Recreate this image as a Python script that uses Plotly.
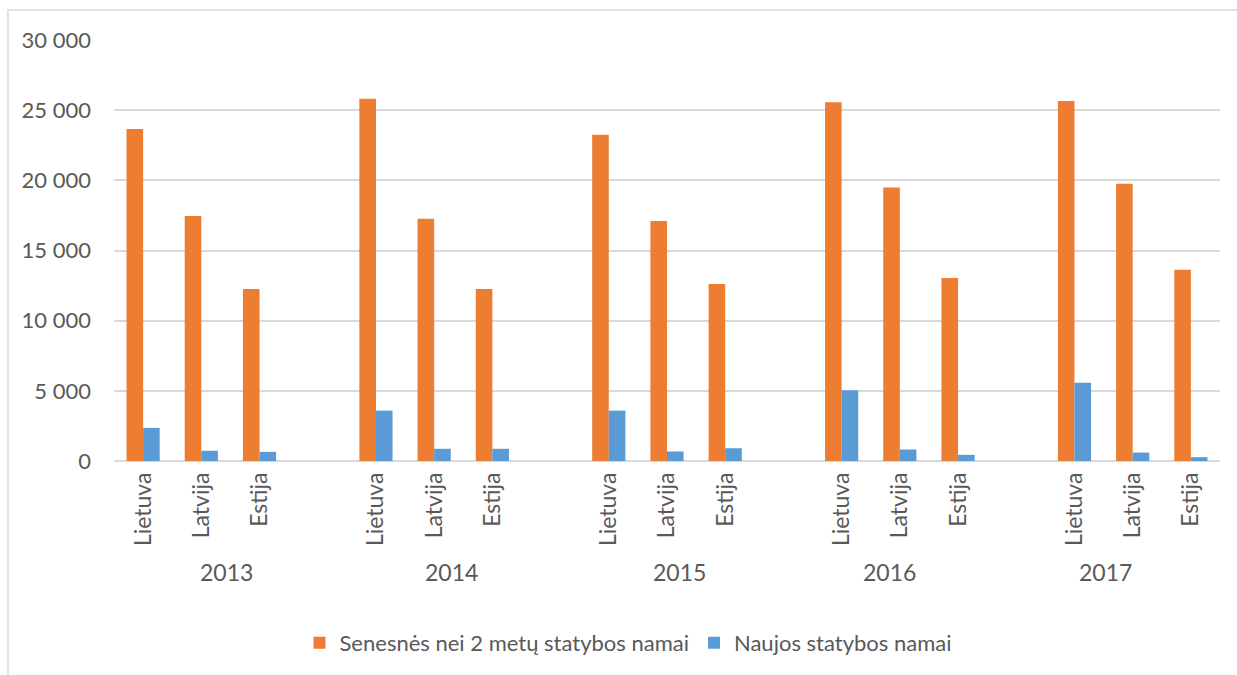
import plotly.graph_objects as go

# Data
years = ["2013", "2014", "2015", "2016", "2017"]
countries = ["Lietuva", "Latvija", "Estija"]
older_homes = [
    [23650, 17450, 12260],   # 2013
    [25820, 17260, 12260],   # 2014
    [23240, 17100, 12610],   # 2015
    [25570, 19490, 13040],   # 2016
    [25660, 19750, 13630],   # 2017
]
new_homes = [
    [2360, 730, 650],
    [3590, 870, 870],
    [3590, 680, 910],
    [5040, 820, 440],
    [5570, 600, 270],
]
series_names = ["Senesnės nei 2 metų statybos namai", "Naujos statybos namai"]

# Layout helpers: each year takes 3 category slots followed by one empty slot
SLOT = 4
xpos, xlabels, y_old, y_new = [], [], [], []
for i, yr in enumerate(years):
    for j, c in enumerate(countries):
        xpos.append(i * SLOT + j)
        xlabels.append(c)
        y_old.append(older_homes[i][j])
        y_new.append(new_homes[i][j])

# Horizontal offsets of the year labels relative to the first bar of each group
year_label_offset = [1.44, 1.29, 1.21, 0.82, 0.54]

TEXT = "#595959"
GRID = "#d9d9d9"
FONT = "Lato"

fig = go.Figure()
fig.add_trace(go.Bar(x=xpos, y=y_old, name=series_names[0],
                     marker=dict(color="#ED7D31", line=dict(width=0))))
fig.add_trace(go.Bar(x=xpos, y=y_new, name=series_names[1],
                     marker=dict(color="#5B9BD5", line=dict(width=0))))

W, H = 1237, 675
L, R, T, B = 114, 17, 40, 213
pw, ph = W - L - R, H - T - B

annotations = []
for i, yr in enumerate(years):
    annotations.append(dict(
        x=i * SLOT + year_label_offset[i], xref="x",
        y=-(573 - (H - B)) / ph, yref="paper",
        text=yr, showarrow=False, xanchor="center", yanchor="middle",
        font=dict(family=FONT, size=23, color=TEXT)))

fig.update_layout(
    width=W, height=H,
    margin=dict(l=L, r=R, t=T, b=B),
    paper_bgcolor="white", plot_bgcolor="white",
    barmode="group", bargap=0.43, bargroupgap=0,
    separators=", ",
    font=dict(family=FONT, size=22, color=TEXT),
    showlegend=True,
    legend=dict(orientation="h", x=(628 - L) / pw, xanchor="center",
                y=-(643 - (H - B)) / ph, yanchor="middle",
                font=dict(family=FONT, size=22, color=TEXT),
                itemwidth=30, traceorder="normal"),
    xaxis=dict(range=[-0.5, len(years) * SLOT - 1.5],
               tickmode="array", tickvals=xpos, ticktext=xlabels,
               tickangle=-90, showgrid=False, zeroline=False,
               showline=False, ticks="", ticklabelstandoff=6,
               tickfont=dict(family=FONT, size=23, color=TEXT),
               fixedrange=True),
    yaxis=dict(range=[0, 30000], tickmode="linear", tick0=0, dtick=5000,
               tickformat=",d", showgrid=True, gridcolor=GRID, gridwidth=2,
               zeroline=True, zerolinecolor=GRID, zerolinewidth=2,
               showline=False, ticks="", ticklabelstandoff=22,
               tickfont=dict(family=FONT, size=22, color=TEXT),
               fixedrange=True),
    annotations=annotations,
    shapes=[dict(type="rect", xref="paper", yref="paper",
                 x0=(8 - L) / pw, x1=(W + 10 - L) / pw,
                 y0=-(H + 10 - (H - B)) / ph, y1=1 + (T - 10) / ph,
                 line=dict(color=GRID, width=1.5), fillcolor="rgba(0,0,0,0)",
                 layer="below")],
)

fig.write_html("out.html", config={"displayModeBar": False})
